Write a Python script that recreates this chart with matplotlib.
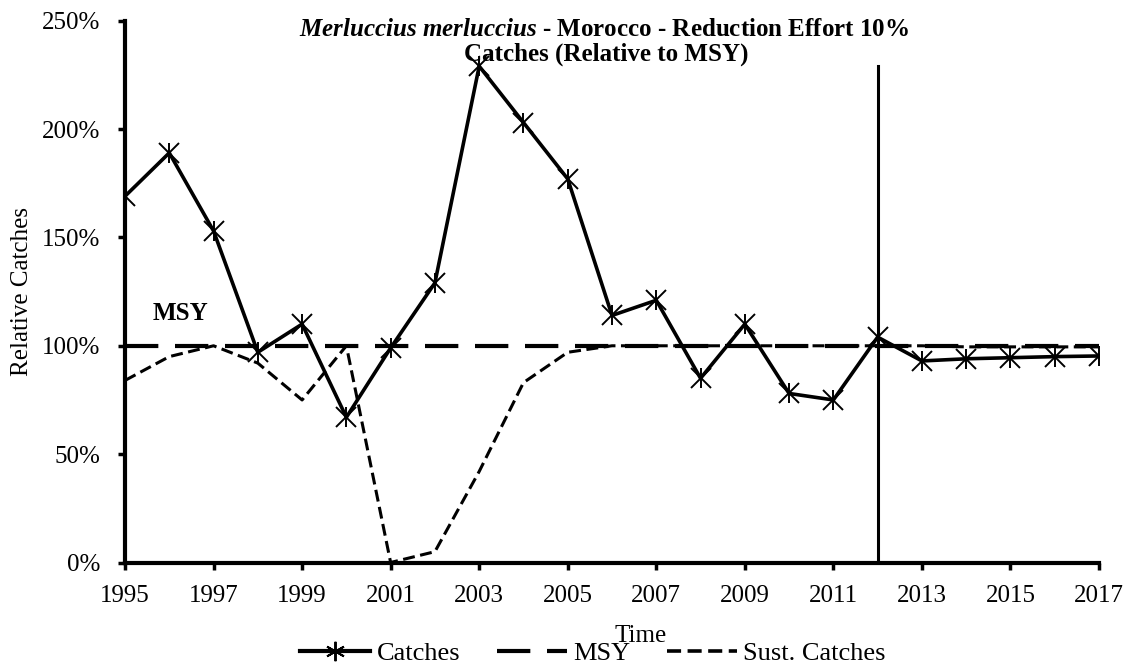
import matplotlib.pyplot as plt
from matplotlib.ticker import PercentFormatter
from matplotlib.lines import Line2D

# data
years = list(range(1995, 2018))
catches = [169, 189, 153, 97, 110, 67, 99, 129, 229, 203, 177, 114, 121, 85,
           110, 78, 75, 104, 93, 94, 94.5, 95, 95.3]
msy = [100] * len(years)
sust = [84, 95, 100, 92, 75, 100, 0, 5, 42, 83, 97, 100, 100, 100,
        100, 100, 100, 100, 100, 99.5, 99.5, 99.5, 99.5]
split_year = 2012
split_top = 229

plt.rcParams['font.family'] = ['Liberation Serif', 'DejaVu Serif']
plt.rcParams['font.size'] = 18
plt.rcParams['mathtext.fontset'] = 'custom'
plt.rcParams['mathtext.rm'] = 'Liberation Serif'
plt.rcParams['mathtext.bf'] = 'Liberation Serif:bold'
plt.rcParams['mathtext.it'] = 'Liberation Serif:italic'
plt.rcParams['mathtext.bfit'] = 'Liberation Serif:italic:bold'

W, H = 1131, 663
fig = plt.figure(figsize=(W / 100, H / 100), dpi=100)
ax = fig.add_axes([125 / W, 1 - 562.5 / H, (1099 - 125) / W, (562.5 - 20.7) / H])

msy_dash = (8, 4)
sust_dash = (3.9, 1.8)
ax.plot(years, msy, color='black', lw=3, dashes=msy_dash, zorder=2)
ax.plot(years, sust, color='black', lw=2.2, dashes=sust_dash, zorder=2)
ax.plot(years, catches, color='black', lw=2.6, marker='x', markersize=14,
        markeredgewidth=1.4, zorder=3)
ax.plot(years, catches, color='black', lw=0, marker='|', markersize=15,
        markeredgewidth=1.4, zorder=3)
ax.plot([split_year, split_year], [0, split_top], color='black', lw=2.2, zorder=2)

ax.set_xlim(1995, 2017)
ax.set_ylim(0, 250)
ax.set_xticks(range(1995, 2018, 2))
ax.set_yticks(range(0, 251, 50))
ax.yaxis.set_major_formatter(PercentFormatter(decimals=0))
ax.tick_params(direction='out', length=5, width=2.5, labelsize=18)
ax.tick_params(axis='x', pad=11)
ax.tick_params(axis='y', pad=13)
for s in ['top', 'right']:
    ax.spines[s].set_visible(False)
for s in ['left', 'bottom']:
    ax.spines[s].set_linewidth(3)

fig.text(22 / W, 1 - 291 / H, 'Relative Catches', rotation=90, ha='center', va='center', fontsize=18)
fig.text(641 / W, 1 - 641.5 / H, 'Time', ha='center', va='baseline', fontsize=18)

fig.text(604 / W, 1 - 36 / H, r'$\mathbfit{Merluccius\ merluccius}$' + ' - Morocco - Reduction Effort 10%',
         ha='center', va='baseline', fontsize=18, fontweight='bold')
fig.text(606 / W, 1 - 61 / H, 'Catches (Relative to MSY)',
         ha='center', va='baseline', fontsize=18, fontweight='bold')
ax.text(1995.63, 111.7, 'MSY', fontsize=18, fontweight='bold', ha='left', va='baseline')

handles = [
    Line2D([], [], color='black', lw=3, marker=(6, 2, 0), markersize=14, markeredgewidth=1.4),
    Line2D([], [], color='black', lw=3, dashes=msy_dash),
    Line2D([], [], color='black', lw=2.6, dashes=sust_dash),
]
fig.legend(handles, ['Catches', 'MSY', 'Sust. Catches'], loc='center',
           bbox_to_anchor=(593 / W, 1 - 653 / H), ncol=3, frameon=False,
           fontsize=19, handlelength=2.65, handletextpad=0.23, columnspacing=1.4,
           borderpad=0, borderaxespad=0)

fig.savefig('out.png', dpi=100)
